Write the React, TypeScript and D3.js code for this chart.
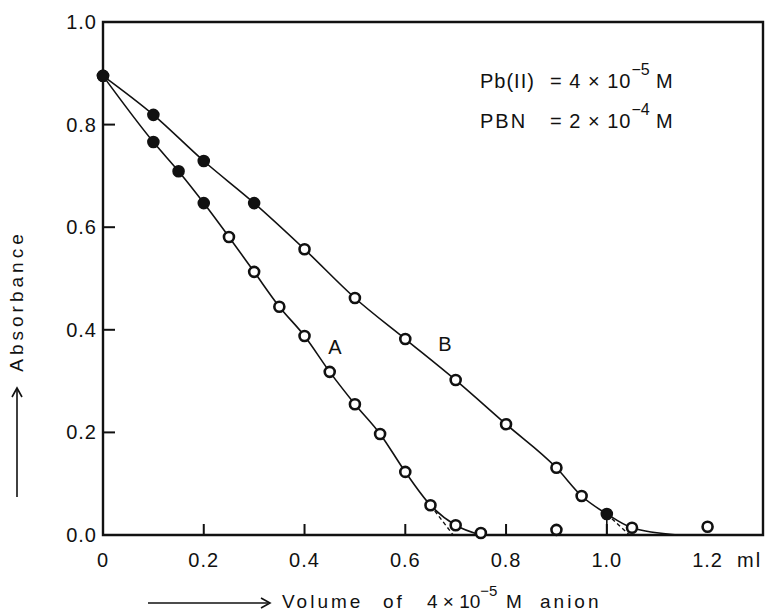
import React from 'react'
import * as d3 from 'd3'

// curve A
const volA = [0, 0.1, 0.15, 0.2, 0.25, 0.3, 0.35, 0.4, 0.45, 0.5, 0.55, 0.6, 0.65, 0.7, 0.75, 0.9]
const absA = [0.895, 0.766, 0.709, 0.647, 0.581, 0.513, 0.445, 0.388, 0.318, 0.255, 0.197, 0.123, 0.058, 0.019, 0.004, 0.01]
const solidA = [1, 1, 1, 1, 0, 0, 0, 0, 0, 0, 0, 0, 0, 0, 0, 0]

// curve B
const volB = [0, 0.1, 0.2, 0.3, 0.4, 0.5, 0.6, 0.7, 0.8, 0.9, 0.95, 1.0, 1.05, 1.2]
const absB = [0.895, 0.819, 0.729, 0.647, 0.557, 0.462, 0.382, 0.302, 0.216, 0.131, 0.076, 0.041, 0.014, 0.016]
const solidB = [1, 1, 1, 1, 0, 0, 0, 0, 0, 0, 0, 1, 0, 0]

// where the drawn curves run out on the baseline
const tailA = [0.75, 0.0]
const tailB = [1.14, 0.0]
// extrapolated end points (dashed)
const endA = [0.695, 0]
const endB = [1.045, 0]

const xTicks = [0, 0.2, 0.4, 0.6, 0.8, 1.0, 1.2]
const xTickLabels = ['0', '0.2', '0.4', '0.6', '0.8', '1.0', '1.2']
const yTicks = [0, 0.2, 0.4, 0.6, 0.8, 1.0]
const yTickLabels = ['0.0', '0.2', '0.4', '0.6', '0.8', '1.0']

const W = 769
const H = 615
const font = '"Liberation Sans", Arial, sans-serif'

export default function App() {
  const x = d3.scaleLinear().domain([0, 1.31]).range([103, 763])
  const y = d3.scaleLinear().domain([0, 1]).range([535, 22])

  const line = d3.line<number[]>()
    .x(d => x(d[0]))
    .y(d => y(d[1]))
    .curve(d3.curveMonotoneX)

  const ptsA = volA.map((v, i) => [v, absA[i]])
  const ptsB = volB.map((v, i) => [v, absB[i]])

  const curveA = ptsA.filter(d => d[0] < tailA[0])
  curveA.push(tailA)
  const curveB = ptsB.filter(d => d[0] <= 1.05)
  curveB.push(tailB)

  const x0 = x(0), x1 = x(1.31), y0 = y(0), y1 = y(1)

  const dot = (d: number[], filled: number, key: string) => (
    <circle key={key} cx={x(d[0])} cy={y(d[1])} r={5}
      fill={filled ? '#111' : '#fff'} stroke="#111" strokeWidth={2.6} />
  )

  return (
    <svg width={W} height={H} style={{ position: 'absolute', left: 0, top: 0, background: '#fff' }}
      fontFamily={font} fill="#111">
      {/* frame */}
      <path d={`M${x0},${y1}V${y0}H${x1}V${y1}Z`} fill="none" stroke="#111" strokeWidth={2.4} />

      {/* ticks pointing inward */}
      {xTicks.slice(1, 6).map(t => (
        <line key={'xt' + t} x1={x(t)} x2={x(t)} y1={y0} y2={y0 - 11} stroke="#111" strokeWidth={2} />
      ))}
      {yTicks.slice(1, 5).map(t => (
        <line key={'yt' + t} x1={x0} x2={x0 + 12} y1={y(t)} y2={y(t)} stroke="#111" strokeWidth={2} />
      ))}

      {xTicks.map((t, i) => (
        <text key={'xl' + t} x={x(t)} y={567} textAnchor="middle" fontSize={20} letterSpacing={1}>
          {xTickLabels[i]}
        </text>
      ))}
      <text x={737} y={567} fontSize={20} letterSpacing={2}>ml</text>
      {yTicks.map((t, i) => (
        <text key={'yl' + t} x={97} y={y(t) + 7} textAnchor="end" fontSize={20} letterSpacing={1}>
          {yTickLabels[i]}
        </text>
      ))}

      {/* curves */}
      <path d={line(curveA) ?? ''} fill="none" stroke="#111" strokeWidth={1.6} />
      <path d={line(curveB) ?? ''} fill="none" stroke="#111" strokeWidth={1.6} />

      {/* extrapolations */}
      <line x1={x(0.65)} y1={y(0.058)} x2={x(endA[0])} y2={y(endA[1])}
        stroke="#111" strokeWidth={1.4} strokeDasharray="4,3" />
      <line x1={x(1.0)} y1={y(0.041)} x2={x(endB[0])} y2={y(endB[1])}
        stroke="#111" strokeWidth={1.4} strokeDasharray="4,3" />
      <line x1={x(1.0)} y1={y(0.041)} x2={x(1.0)} y2={y0} stroke="#111" strokeWidth={1.6} />

      {ptsA.map((d, i) => dot(d, solidA[i], 'a' + i))}
      {ptsB.map((d, i) => dot(d, solidB[i], 'b' + i))}

      <text x={335} y={354} textAnchor="middle" fontSize={20}>A</text>
      <text x={445} y={351} textAnchor="middle" fontSize={20}>B</text>

      {/* conditions */}
      <text y={88} fontSize={20}>
        <tspan x={480} letterSpacing={1}>Pb(II)</tspan>
        <tspan x={550} letterSpacing={1}>= 4 × 10</tspan>
        <tspan dy={-13} fontSize={16}>−5</tspan>
        <tspan x={656} dy={13}>M</tspan>
      </text>
      <text y={128} fontSize={20}>
        <tspan x={480} letterSpacing={2}>PBN</tspan>
        <tspan x={550} letterSpacing={1}>= 2 × 10</tspan>
        <tspan dy={-13} fontSize={16}>−4</tspan>
        <tspan x={656} dy={13}>M</tspan>
      </text>

      {/* y label */}
      <text transform="translate(23,301) rotate(-90)" textAnchor="middle" fontSize={19} letterSpacing={4}>
        Absorbance
      </text>
      <line x1={17} x2={17} y1={497} y2={389} stroke="#111" strokeWidth={1.6} />
      <path d="M12,397L17,388L22,397" fill="none" stroke="#111" strokeWidth={1.6} />

      {/* x label */}
      <line x1={148} x2={268} y1={603} y2={603} stroke="#111" strokeWidth={1.6} />
      <path d="M261,598L270,603L261,608" fill="none" stroke="#111" strokeWidth={1.6} />
      <text y={608} fontSize={19}>
        <tspan x={282} letterSpacing={3}>Volume</tspan>
        <tspan x={383} letterSpacing={3}>of</tspan>
        <tspan x={427}>4 × 10</tspan>
        <tspan dy={-12} fontSize={15}>−5</tspan>
        <tspan x={506} dy={12}>M</tspan>
        <tspan x={540} letterSpacing={3}>anion</tspan>
      </text>
    </svg>
  )
}
